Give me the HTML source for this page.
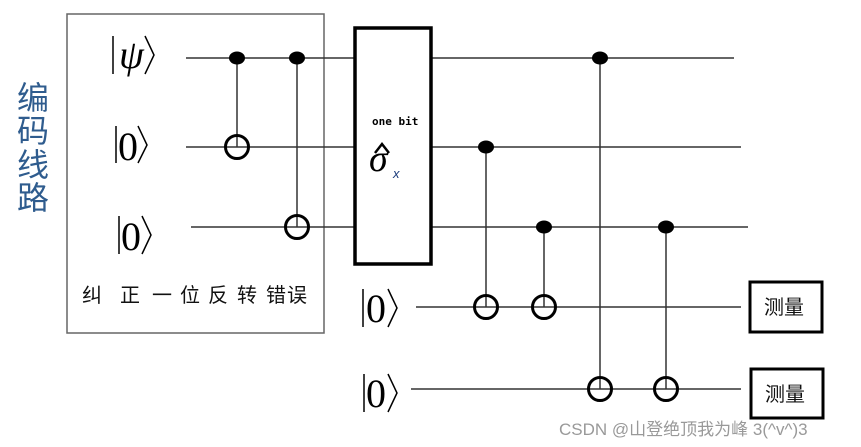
<!DOCTYPE html>
<html><head><meta charset="utf-8"><style>
html,body{margin:0;padding:0;background:#fff;}
svg{display:block;}
.k{font-family:"Liberation Serif",serif;font-size:40px;fill:#000;}
.c{font-family:"Liberation Sans","Noto Sans CJK SC",sans-serif;}
</style></head><body>
<svg width="861" height="447" viewBox="0 0 861 447" xmlns="http://www.w3.org/2000/svg">
<rect x="67" y="14" width="257" height="319" fill="none" stroke="#666" stroke-width="1.5"/>
<g class="c" font-size="32" fill="#2f5c8e">
<text x="17" y="109">编</text><text x="17" y="142">码</text><text x="17" y="176">线</text><text x="17" y="209">路</text>
</g>
<g class="c" font-size="20" fill="#111">
<text x="82" y="302">纠</text><text x="120" y="302">正</text><text x="152" y="302">一</text><text x="180" y="302">位</text><text x="208" y="302">反</text><text x="237" y="302">转</text><text x="266" y="302">错</text><text x="287" y="302">误</text>
</g>
<g stroke="#000" stroke-width="1.5" fill="none">
<line x1="113" y1="36" x2="113" y2="74"/><polyline points="145,36 154,55 145,74"/>
<line x1="116" y1="126" x2="116" y2="163"/><polyline points="138,126 147,145 138,163"/>
<line x1="119" y1="216" x2="119" y2="254"/><polyline points="142,216 151,235 142,254"/>
<line x1="363" y1="289" x2="363" y2="327"/><polyline points="388,289 397,308 388,327"/>
<line x1="364" y1="374" x2="364" y2="412"/><polyline points="388,374 397,393 388,412"/>
</g>
<text class="k" x="119" y="68" font-style="italic" font-size="36">ψ</text>
<text class="k" x="118" y="160">0</text>
<text class="k" x="121" y="250">0</text>
<text class="k" x="366" y="322">0</text>
<text class="k" x="366" y="407">0</text>
<g stroke="#333" stroke-width="1.5">
<line x1="186" y1="58" x2="354" y2="58"/><line x1="431" y1="58" x2="734" y2="58"/>
<line x1="186" y1="147" x2="354" y2="147"/><line x1="431" y1="147" x2="741" y2="147"/>
<line x1="191" y1="227" x2="354" y2="227"/><line x1="431" y1="227" x2="748" y2="227"/>
<line x1="416" y1="307" x2="741" y2="307"/>
<line x1="411" y1="389" x2="741" y2="389"/>
<line x1="237" y1="58" x2="237" y2="147"/>
<line x1="297" y1="58" x2="297" y2="227"/>
<line x1="486" y1="147" x2="486" y2="307"/>
<line x1="544" y1="227" x2="544" y2="307"/>
<line x1="600" y1="58" x2="600" y2="389"/>
<line x1="666" y1="227" x2="666" y2="389"/>
</g>
<g fill="#000">
<ellipse cx="237" cy="58" rx="8" ry="6.5"/><ellipse cx="297" cy="58" rx="8" ry="6.5"/>
<ellipse cx="600" cy="58" rx="8" ry="6.5"/><ellipse cx="486" cy="147" rx="8" ry="6.5"/>
<ellipse cx="544" cy="227" rx="8" ry="6.5"/><ellipse cx="666" cy="227" rx="8" ry="6.5"/>
</g>
<g fill="none" stroke="#000" stroke-width="3">
<circle cx="237" cy="147" r="11.5"/><circle cx="297" cy="227" r="11.5"/>
<circle cx="486" cy="307" r="11.5"/><circle cx="544" cy="307" r="11.5"/>
<circle cx="600" cy="389" r="11.5"/><circle cx="666" cy="389" r="11.5"/>
</g>
<rect x="355" y="28" width="76" height="236" fill="#fff" stroke="#000" stroke-width="3.5"/>
<text x="372" y="125" font-family="DejaVu Sans Mono,monospace" font-weight="bold" font-size="11">one bit</text>
<text x="369" y="171" font-family="Liberation Serif,serif" font-style="italic" font-size="38">σ</text>
<polyline points="375,153 382,144 389,153" fill="none" stroke="#000" stroke-width="2.5"/>
<text x="393" y="178" font-family="Liberation Sans,sans-serif" font-style="italic" font-size="13" fill="#1a3a7a">x</text>
<rect x="750" y="282" width="72" height="50" fill="#fff" stroke="#000" stroke-width="3"/>
<rect x="751" y="369" width="72" height="49" fill="#fff" stroke="#000" stroke-width="3"/>
<g class="c" font-size="20" fill="#111">
<text x="764" y="314">测量</text><text x="765" y="401">测量</text>
</g>
<text x="559" y="435" class="c" font-size="17" fill="#999">CSDN @山登绝顶我为峰 3(^v^)3</text>
</svg>
</body></html>
